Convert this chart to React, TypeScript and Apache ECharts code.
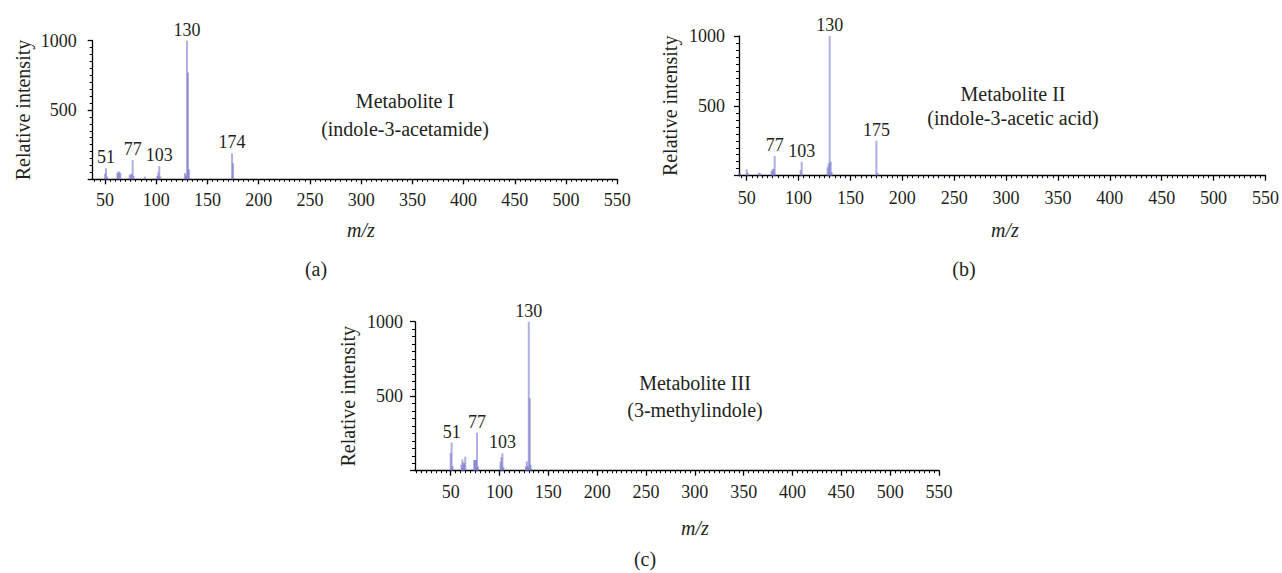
import React, { useEffect, useRef } from "react";
import * as echarts from "echarts";

// Panel (a) Metabolite I
const mzA = [50, 51, 52, 62, 63, 64, 65, 74, 75, 76, 77, 78, 89, 101, 102, 103, 104, 128, 129, 130, 131, 132, 174, 175];
const intA = [40, 80, 20, 45, 55, 55, 45, 30, 35, 40, 139, 25, 19, 25, 50, 96, 20, 45, 30, 1000, 770, 72, 187, 115];
const labelsA = [51, 77, 103, 130, 174];

// Panel (b) Metabolite II
const mzB = [43, 50, 51, 62, 63, 74, 75, 76, 77, 102, 103, 128, 129, 130, 131, 132, 175, 176];
const intB = [25, 46, 20, 21, 18, 35, 46, 50, 141, 40, 100, 60, 89, 1000, 100, 25, 251, 20];
const labelsB = [77, 103, 130, 175];

// Panel (c) Metabolite III
const mzC = [50, 51, 52, 61, 62, 63, 64, 65, 74, 75, 76, 77, 78, 101, 102, 103, 104, 127, 128, 129, 130, 131, 132];
const intC = [119, 189, 30, 40, 76, 55, 50, 94, 72, 72, 72, 255, 30, 60, 92, 117, 25, 30, 62, 30, 1000, 486, 40];
const labelsC = [51, 77, 103, 130];

const xTickValues = [50, 100, 150, 200, 250, 300, 350, 400, 450, 500, 550];
const xMinorTickValues: number[] = [];
for (let v = 15; v <= 550; v += 5) xMinorTickValues.push(v);

const FONT = '"Liberation Serif", "Times New Roman", serif';
const TXT = "#231f20";
const BAR = "rgba(110,110,200,0.55)";
const NUM_SIZE = 18;
const WORD_SIZE = 20;

function buildPeaks(mz: number[], inten: number[], labels: number[]) {
  return mz.map((m, i) => ({
    value: [m, inten[i]],
    label: labels.includes(m)
      ? { show: true, formatter: String(m) }
      : { show: false },
  }));
}

const panels = [
  { mz: mzA, it: intA, lb: labelsA, grid: { left: 92.7, top: 40.7, width: 524.6, height: 138.6 }, xmin: 38, ylm: 16, xlm: 12, ng: 60 },
  { mz: mzB, it: intB, lb: labelsB, grid: { left: 739, top: 36, width: 526.7, height: 139.7 }, xmin: 42.6, ylm: 14, xlm: 13, ng: 59 },
  { mz: mzC, it: intC, lb: labelsC, grid: { left: 415, top: 321.7, width: 524, height: 149 }, xmin: 13.5, ylm: 12, xlm: 12.5, ng: 57 },
];

const textItems = [
  { t: "Metabolite I", x: 405, y: 101, italic: false },
  { t: "(indole-3-acetamide)", x: 405, y: 129, italic: false },
  { t: "Metabolite II", x: 1013, y: 94, italic: false },
  { t: "(indole-3-acetic acid)", x: 1013, y: 118, italic: false },
  { t: "Metabolite III", x: 695, y: 383, italic: false },
  { t: "(3-methylindole)", x: 695, y: 410, italic: false },
  { t: "m/z", x: 361, y: 230, italic: true },
  { t: "m/z", x: 1005, y: 230, italic: true },
  { t: "m/z", x: 695, y: 528, italic: true },
  { t: "(a)", x: 316, y: 269, italic: false },
  { t: "(b)", x: 964, y: 269, italic: false },
  { t: "(c)", x: 645, y: 559, italic: false },
];

export default function App() {
  const ref = useRef<HTMLDivElement>(null);
  useEffect(() => {
    if (!ref.current) return;
    const chart = echarts.init(ref.current, undefined, { renderer: "svg" });
    const lineStyle = { color: "#000", width: 1.3 };
    const grids: any[] = [];
    const xAxes: any[] = [];
    const yAxes: any[] = [];
    const series: any[] = [];
    panels.forEach((p, i) => {
      grids.push({ ...p.grid, containLabel: false });
      xAxes.push({
        gridIndex: i,
        type: "value",
        min: p.xmin,
        max: 550,
        position: "bottom",
        axisLine: { show: true, onZero: false, lineStyle },
        axisTick: { show: true, length: 5, customValues: xTickValues, lineStyle },
        axisLabel: {
          customValues: xTickValues,
          margin: p.xlm,
          fontFamily: FONT,
          fontSize: NUM_SIZE,
          color: TXT,
          formatter: (v: number) => String(v),
        },
        splitLine: { show: false },
      });
      yAxes.push({
        gridIndex: i,
        type: "value",
        min: 0,
        max: 1000,
        interval: 500,
        axisLine: { show: true, lineStyle },
        axisTick: { show: true, length: 5, lineStyle },
        minorTick: { show: true, splitNumber: 10, length: 3, lineStyle: { color: "#000", width: 1 } },
        splitLine: { show: false },
        minorSplitLine: { show: false },
        axisLabel: {
          showMinLabel: false,
          margin: p.ylm,
          fontFamily: FONT,
          fontSize: NUM_SIZE,
          color: TXT,
          formatter: (v: number) => (v === 0 ? "" : String(v)),
        },
        name: "Relative intensity",
        nameLocation: "middle",
        nameGap: p.ng,
        nameTextStyle: { fontFamily: FONT, fontSize: WORD_SIZE, color: TXT },
      });
      series.push({
        type: "bar",
        xAxisIndex: i,
        yAxisIndex: i,
        barWidth: 2,
        itemStyle: { color: BAR },
        label: { position: "top", distance: 2, fontFamily: FONT, fontSize: NUM_SIZE, color: TXT },
        data: buildPeaks(p.mz, p.it, p.lb),
      });
    });
    // minor x ticks
    panels.forEach((p, i) => {
      xAxes.push({
        gridIndex: i,
        type: "value",
        min: p.xmin,
        max: 550,
        position: "bottom",
        axisLine: { show: false },
        axisTick: {
          show: true,
          length: 2.5,
          customValues: xMinorTickValues.filter((v) => v >= p.xmin),
          lineStyle: { color: "#000", width: 1 },
        },
        axisLabel: { show: false },
        splitLine: { show: false },
      });
    });
    chart.setOption({
      animation: false,
      backgroundColor: "#fff",
      grid: grids,
      xAxis: xAxes,
      yAxis: yAxes,
      series,
      graphic: textItems.map((t) => ({
        type: "text",
        x: t.x,
        y: t.y,
        style: {
          text: t.t,
          x: 0,
          y: 0,
          align: "center",
          verticalAlign: "middle",
          fontFamily: FONT,
          fontSize: WORD_SIZE,
          fontStyle: t.italic ? "italic" : "normal",
          fill: TXT,
        },
      })),
    });
    return () => chart.dispose();
  }, []);
  return (
    <div
      ref={ref}
      style={{ position: "absolute", left: 0, top: 0, width: 1282, height: 573 }}
    />
  );
}
